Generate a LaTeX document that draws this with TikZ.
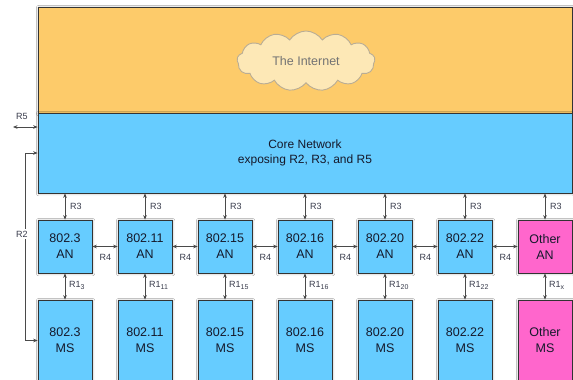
\documentclass[tikz,border=0pt]{standalone}
\usepackage{fontspec}
\setmainfont{Liberation Sans}
\usetikzlibrary{shapes.symbols,arrows.meta,shadows.blur}
\definecolor{inetorange}{HTML}{FDCB6A}
\definecolor{netblue}{HTML}{66CCFF}
\definecolor{otherpink}{HTML}{FF66CC}
\definecolor{cloudfill}{HTML}{FDE8B6}
\definecolor{cloudline}{HTML}{B9AD95}
\definecolor{boxline}{HTML}{333333}
\definecolor{wire}{HTML}{4A4A4A}
\definecolor{ink}{HTML}{15192B}
\newcommand{\subidx}[1]{\raisebox{-2.2pt}{\fontsize{7}{8}\selectfont #1}}
\tikzset{
  softshadow/.style={blur shadow={shadow xshift=0.6pt, shadow yshift=-0.6pt, shadow blur radius=2.2pt, shadow opacity=35}},
  panel/.style={draw=boxline, line width=0.75pt, inner sep=0pt, softshadow},
  netbox/.style={panel, fill=netblue, minimum width=54pt, text=ink, align=center,
    font=\fontsize{12.5}{16}\selectfont},
  anbox/.style={netbox, minimum height=53pt},
  msbox/.style={netbox, minimum height=81pt},
  otherbox/.style={fill=otherpink},
  biarrow/.style={draw=wire, line width=0.7pt, {Stealth[length=4.5pt,width=3.6pt]}-{Stealth[length=4.5pt,width=3.6pt]}},
  lbl/.style={font=\fontsize{9}{10}\selectfont, text=ink!85, inner sep=1pt},
}
\begin{document}
\begin{tikzpicture}[x=1pt,y=-1pt]
\useasboundingbox (0,0) rectangle (573,380);
\fill[white] (0,0) rectangle (573,380);

% Internet layer and core network
\node[panel, fill=inetorange, minimum width=534pt, minimum height=106pt] (inet) at (305,60) {};
\node[panel, fill=netblue, minimum width=534pt, minimum height=80pt, text=ink, align=center,
  font=\fontsize{12}{15.3}\selectfont] (core) at (305,153) {Core Network\\exposing R2, R3, and R5};
\node[cloud, cloud puffs=13, cloud puff arc=115, aspect=2.4, draw=cloudline, line width=0.9pt,
  fill=cloudfill, minimum width=138pt, minimum height=60pt, inner sep=0pt, text=black!55,
  font=\fontsize{12.5}{15}\selectfont] (cloud) at (306,61) {The Internet};

% Access networks (top row) and mobile stations (bottom row)
\foreach \i/\t [count=\k] in {0/802.3, 1/802.11, 2/802.15, 3/802.16, 4/802.20, 5/802.22} {
  \node[anbox] (an\k) at (65+80*\i,246.5) {\t\\AN};
  \node[msbox] (ms\k) at (65+80*\i,340.5) {\t\\MS};
}
\node[anbox, otherbox] (an7) at (545,246.5) {Other\\AN};
\node[msbox, otherbox] (ms7) at (545,340.5) {Other\\MS};

% R3: access networks to core
\foreach \k in {1,...,7} {
  \draw[biarrow] (an\k.north) -- (an\k.north |- core.south);
  \node[lbl, anchor=west] (r3lbl\k) at ([xshift=4pt, yshift=13.5pt]an\k.north) {R3};
}

% R4: between neighbouring access networks
\foreach \k [evaluate=\k as \n using int(\k+1)] in {1,...,6} {
  \draw[biarrow] (an\k.east) -- (an\n.west);
  \node[lbl] (r4lbl\k) at ([xshift=13pt, yshift=-10.5pt]an\k.east) {R4};
}

% R1: access network to its mobile station
\foreach \k/\s in {1/3, 2/11, 3/15, 4/16, 5/20, 6/22, 7/x} {
  \draw[biarrow] (an\k.south) -- (ms\k.north);
  \node[lbl, anchor=west] (r1lbl\k) at ([xshift=3pt, yshift=-12pt]an\k.south) {R1\subidx{\s}};
}

% R5: external interface of the core
\coordinate (r5end) at (13,127);
\draw[biarrow] (r5end) -- (r5end -| core.west);
\node[lbl] (r5lbl) at (22,116) {R5};

% R2: core to mobile station
\draw[biarrow] (core.west) -- ++(-12,0) |- (ms1.west);
\node[lbl, fill=white, inner sep=1.5pt] (r2lbl) at (22,234) {R2};
\end{tikzpicture}
\end{document}
